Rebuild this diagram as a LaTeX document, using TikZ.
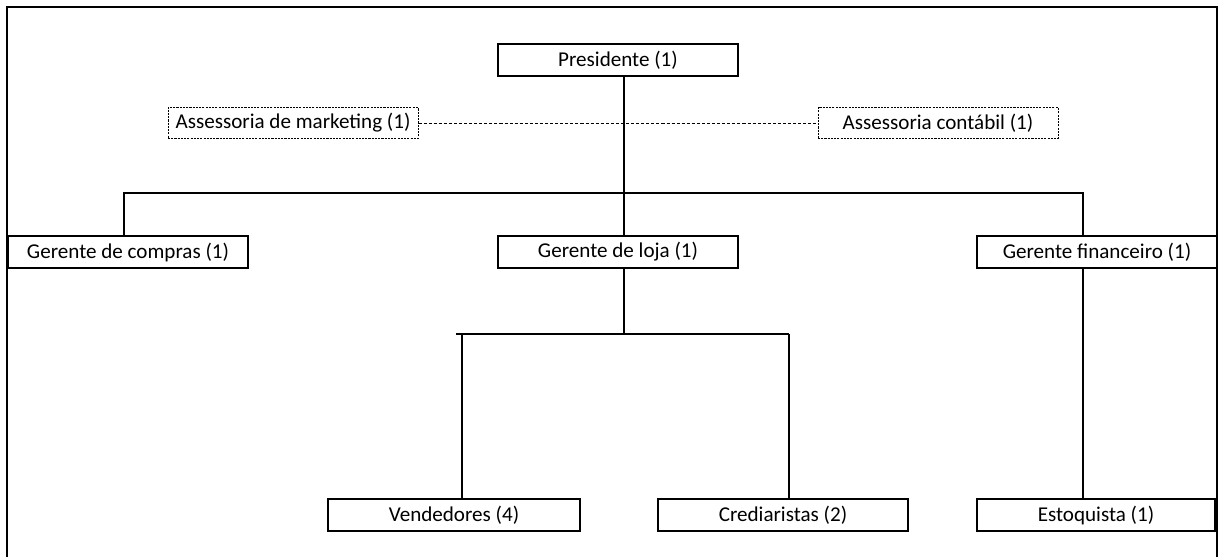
\documentclass[tikz,border=0pt]{standalone}
\usepackage{fontspec}
\setmainfont{Carlito}
\usepackage{tikz}
\definecolor{inkc}{HTML}{000000}

\begin{document}
\begin{tikzpicture}[x=0.025cm, y=-0.025cm, font=\fontsize{15pt}{17pt}\selectfont,
  orgbox/.style={draw=inkc, line width=1.3pt, minimum width=6cm, minimum height=0.78cm, inner sep=1pt},
  staffbox/.style={draw=inkc, line width=0.6pt, dash pattern=on 1.5pt off 0.8pt, minimum width=6.25cm, minimum height=0.78cm, inner sep=0pt},
  link/.style={inkc, line width=1pt}]
  \useasboundingbox (0,0) rectangle (1219,557);
  % outer frame
  \draw[inkc, line width=1.4pt] (7,560) -- (7,7) -- (1217,7) -- (1217,560);
  % boxes
  \node[orgbox] (pres) at (618,60) {Presidente (1)};
  \node[staffbox] (mkt) at (293,123) {Assessoria de marketing (1)};
  \node[staffbox, minimum width=6cm] (cont) at (938,123) {Assessoria contábil (1)};
  \node[orgbox] (compras) at (128,252) {Gerente de compras (1)};
  \node[orgbox] (loja) at (618,252) {Gerente de loja (1)};
  \node[orgbox] (fin) at (1097,252) {Gerente financeiro (1)};
  \node[orgbox, minimum width=6.3cm] (vend) at (454,515) {Vendedores (4)};
  \node[orgbox, minimum width=6.25cm] (cred) at (783,515) {Crediaristas (2)};
  \node[orgbox, minimum width=5.95cm] (estoq) at (1096,515) {Estoquista (1)};
  % bus points
  \coordinate (spine) at (624,193);
  \coordinate (busL) at (124,193);
  \coordinate (busR) at (1083,193);
  \coordinate (subL) at (462,334);
  \coordinate (subR) at (789,334);
  % connectors
  \draw[link] (pres.south -| spine) -- (loja.north -| spine);
  \draw[link] (compras.north -| busL) -- (busL) -- (busR) -- (fin.north -| busR);
  \draw[link] (fin.south -| busR) -- (estoq.north -| busR);
  \draw[link] (loja.south -| spine) -- (spine |- subL);
  \draw[link] ([xshift=-4]subL) -- (subR);
  \draw[link] (vend.north -| subL) -- (subL);
  \draw[link] (cred.north -| subR) -- (subR);
  \draw[inkc, line width=0.7pt, dash pattern=on 2.2pt off 1.4pt] (mkt.east) -- (cont.west);
\end{tikzpicture}
\end{document}
